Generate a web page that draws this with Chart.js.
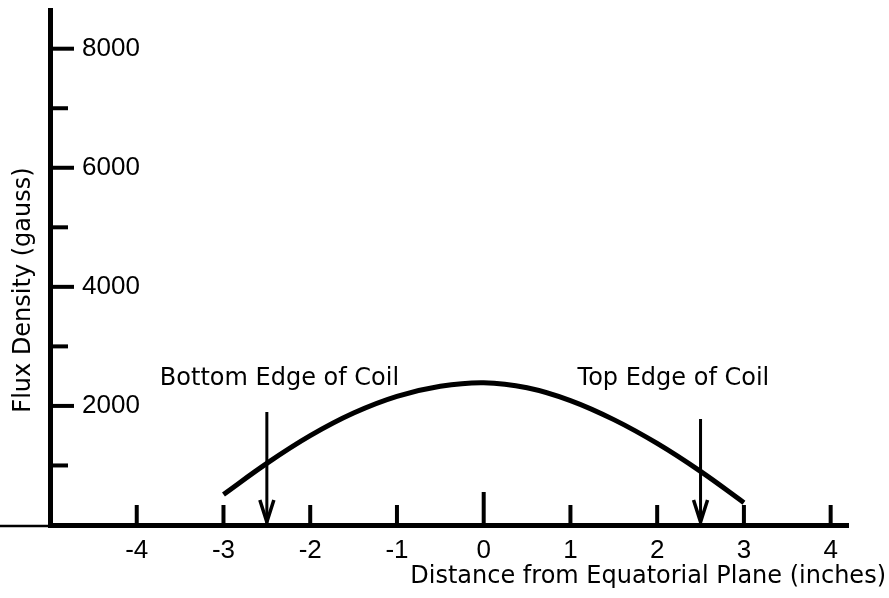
<!DOCTYPE html>
<html>
<head>
<meta charset="utf-8">
<script src="https://cdn.jsdelivr.net/npm/chart.js@4.4.1/dist/chart.umd.min.js"></script>
<style>
  html, body { margin: 0; padding: 0; background: #fff; }
</style>
</head>
<body>
<canvas id="fluxChart" width="889" height="598"></canvas>
<script>
// flux density along the coil axis
const distance = [-3, -2.5, -2, -1.5, -1, -0.5, 0, 0.5, 1, 1.5, 2, 2.5, 3];
const flux = [513, 1035, 1500, 1880, 2160, 2330, 2390, 2305, 2090, 1770, 1370, 900, 375];

const xTicks = [-4, -3, -2, -1, 0, 1, 2, 3, 4];
const yTicks = [1000, 2000, 3000, 4000, 5000, 6000, 7000, 8000];

const coilEdges = ['Bottom Edge of Coil', 'Top Edge of Coil'];
const coilEdgeX = [-2.5, 2.5];
const coilArrowTop = [1900, 1780];

const textFont = '24px "DejaVu Sans", sans-serif';
const numFont = { family: '"Liberation Sans", Arial, sans-serif', size: 26 };

// no extra room around the plot for the tick labels
const noScalePadding = s => {
  s.paddingTop = 0;
  s.paddingBottom = 0;
  s.paddingLeft = 0;
  s.paddingRight = 0;
};

// tick marks sit on the inside of the axes, plus arrowheads and captions
const axisMarks = {
  id: 'axisMarks',
  afterDatasetsDraw(chart) {
    const { ctx, scales: { x, y } } = chart;
    const base = y.getPixelForValue(0);
    const axisX = x.getPixelForValue(x.min);
    ctx.save();
    ctx.strokeStyle = '#000';
    ctx.fillStyle = '#000';
    ctx.lineCap = 'butt';

    ctx.lineWidth = 4;
    xTicks.forEach(v => {
      const px = x.getPixelForValue(v);
      const len = v === 0 ? 33 : 20;
      ctx.beginPath();
      ctx.moveTo(px, base);
      ctx.lineTo(px, base - len);
      ctx.stroke();
    });
    yTicks.forEach(v => {
      const py = y.getPixelForValue(v);
      const len = v % 2000 === 0 ? 24 : 18;
      ctx.beginPath();
      ctx.moveTo(axisX, py);
      ctx.lineTo(axisX + len, py);
      ctx.stroke();
    });

    // baseline runs on past the vertical axis
    ctx.lineWidth = 2.5;
    ctx.beginPath();
    ctx.moveTo(0, base + 1);
    ctx.lineTo(axisX, base + 1);
    ctx.stroke();

    // arrowheads at the coil edges
    ctx.lineWidth = 3.5;
    coilEdgeX.forEach(v => {
      const px = x.getPixelForValue(v);
      ctx.beginPath();
      ctx.moveTo(px - 7, base - 25);
      ctx.lineTo(px, base - 3);
      ctx.lineTo(px + 7, base - 25);
      ctx.stroke();
    });

    ctx.font = textFont;
    ctx.textBaseline = 'middle';
    ctx.textAlign = 'left';
    const capY = y.getPixelForValue(2450);
    ctx.fillText(coilEdges[0], x.getPixelForValue(coilEdgeX[0]) - 107, capY);
    ctx.fillText(coilEdges[1], x.getPixelForValue(coilEdgeX[1]) - 123, capY);

    ctx.textAlign = 'right';
    ctx.fillText('Distance from Equatorial Plane (inches)', 886, 577);

    ctx.translate(24, 290);
    ctx.rotate(-Math.PI / 2);
    ctx.textAlign = 'center';
    ctx.fillText('Flux Density (gauss)', 0, 0);
    ctx.restore();
  }
};

const ctx = document.getElementById('fluxChart').getContext('2d');
new Chart(ctx, {
  type: 'scatter',
  data: {
    datasets: [
      {
        data: distance.map((d, i) => ({ x: d, y: flux[i] })),
        showLine: true,
        borderColor: '#000',
        borderWidth: 5,
        borderCapStyle: 'butt',
        pointRadius: 0,
        tension: 0.4
      },
      ...coilEdgeX.map((ex, i) => ({
        data: [{ x: ex, y: coilArrowTop[i] }, { x: ex, y: 0 }],
        showLine: true,
        borderColor: '#000',
        borderWidth: 3,
        pointRadius: 0
      }))
    ]
  },
  options: {
    responsive: false,
    animation: false,
    events: [],
    layout: { autoPadding: false, padding: { left: 50, right: 41, top: 10, bottom: 0 } },
    plugins: {
      legend: { display: false },
      tooltip: { enabled: false }
    },
    scales: {
      x: {
        type: 'linear',
        min: -5,
        max: 4.2,
        afterBuildTicks: s => { s.ticks = xTicks.map(v => ({ value: v })); },
        afterFit: s => { s.height = 73; noScalePadding(s); },
        grid: { display: false },
        border: { display: true, color: '#000', width: 5 },
        ticks: {
          color: '#000',
          font: numFont,
          padding: 2,
          autoSkip: false,
          maxRotation: 0,
          callback: v => String(v)
        }
      },
      y: {
        type: 'linear',
        min: 0,
        max: 8650,
        afterBuildTicks: s => { s.ticks = yTicks.map(v => ({ value: v })); },
        afterFit: s => { s.width = 0; noScalePadding(s); },
        grid: { display: false },
        border: { display: true, color: '#000', width: 5 },
        ticks: {
          color: '#000',
          font: numFont,
          mirror: true,
          padding: 32,
          callback: v => (v % 2000 === 0 ? String(v) : '')
        }
      }
    }
  },
  plugins: [axisMarks]
});
</script>
</body>
</html>
